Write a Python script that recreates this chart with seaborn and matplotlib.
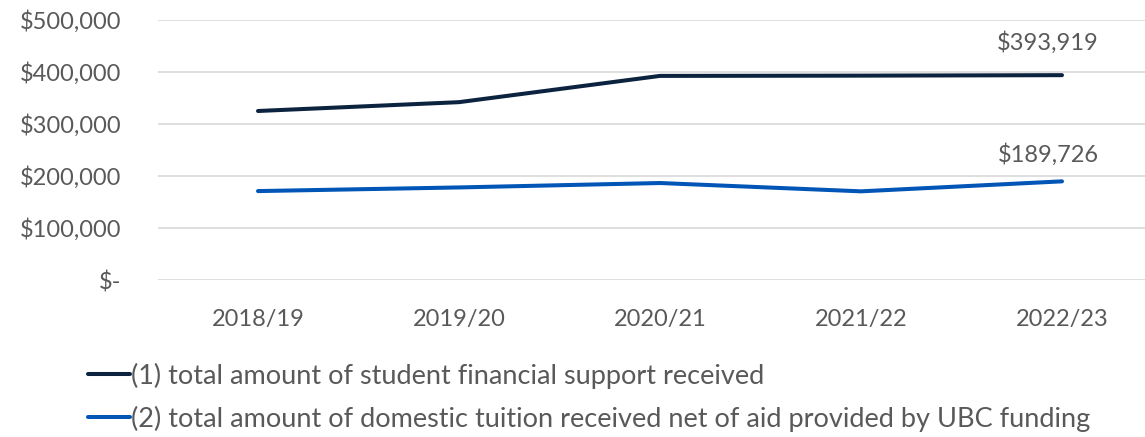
import pandas as pd
import matplotlib
matplotlib.use("Agg")
import matplotlib.pyplot as plt
import seaborn as sns
from matplotlib.ticker import FuncFormatter

# Data
years = ["2018/19", "2019/20", "2020/21", "2021/22", "2022/23"]
support_received = [325000, 342000, 392500, 393000, 393919]
tuition_net = [171000, 178000, 186500, 170500, 189726]

label_support = "(1) total amount of student financial support received"
label_tuition = "(2) total amount of domestic tuition received net of aid provided by UBC funding"

df = pd.DataFrame(
    {
        "year": years * 2,
        "amount": support_received + tuition_net,
        "series": [label_support] * len(years) + [label_tuition] * len(years),
    }
)

navy = "#0c2340"
blue = "#0055b7"
grey_text = "#595959"

sns.set_theme(style="white")
plt.rcParams["font.family"] = ["Lato", "DejaVu Sans"]

fig = plt.figure(figsize=(11.45, 4.37), dpi=100)
ax = fig.add_axes([157.5 / 1145, 1 - 280 / 437, 1005 / 1145, 260 / 437])

sns.lineplot(
    data=df,
    x="year",
    y="amount",
    hue="series",
    palette=[navy, blue],
    linewidth=2.9,
    sort=False,
    ax=ax,
    legend=False,
)

ax.set_xlim(-0.5, 4.5)
ax.set_ylim(0, 500000)
ax.set_yticks(range(0, 500001, 100000))
ax.yaxis.set_major_formatter(
    FuncFormatter(lambda v, p: "$-" if v == 0 else f"${v:,.0f}")
)
ax.grid(axis="y", color="#d9d9d9", linewidth=1.2)
ax.set_axisbelow(True)
for s in ax.spines.values():
    s.set_visible(False)
ax.set_xlabel("")
ax.set_ylabel("")
ax.tick_params(axis="both", length=0, labelsize=17, colors=grey_text)
ax.tick_params(axis="y", pad=26)
ax.tick_params(axis="x", pad=21)

# Data labels on last points
ax.annotate(
    f"${support_received[-1]:,}",
    xy=(4, support_received[-1]),
    xytext=(-10, 15),
    textcoords="offset points",
    ha="center",
    va="bottom",
    fontsize=17,
    color=grey_text,
)
ax.annotate(
    f"${tuition_net[-1]:,}",
    xy=(4, tuition_net[-1]),
    xytext=(-10, 11),
    textcoords="offset points",
    ha="center",
    va="bottom",
    fontsize=17,
    color=grey_text,
)

handles = [
    plt.Line2D([], [], color=navy, linewidth=2.9),
    plt.Line2D([], [], color=blue, linewidth=2.9),
]
fig.legend(
    handles,
    [label_support, label_tuition],
    loc="upper left",
    bbox_to_anchor=(77 / 1145, 1 - 352 / 437),
    frameon=False,
    fontsize=19.5,
    handlelength=1.55,
    handletextpad=0.05,
    labelspacing=0.62,
    labelcolor=grey_text,
    borderaxespad=0,
)

fig.savefig("out.png", dpi=100)
